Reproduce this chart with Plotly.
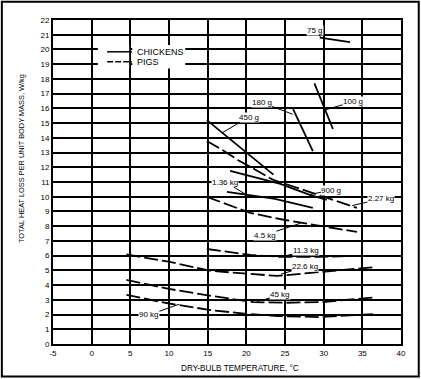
import plotly.graph_objects as go

# ---------------- data ----------------
x_ticks = [-5, 0, 5, 10, 15, 20, 25, 30, 35, 40]
x_tick_labels = ["-5", "0", "5", "10", "15", "20", "25", "30", "35", "40"]
y_ticks = list(range(0, 23))

# Chickens (solid)
chk_75g_x = [29.5, 33.4]
chk_75g_y = [20.8, 20.5]
chk_100g_x = [28.8, 31.2]
chk_100g_y = [17.7, 14.6]
chk_180g_x = [26.05, 28.6]
chk_180g_y = [15.95, 13.1]
chk_450g_x = [14.9, 23.5]
chk_450g_y = [15.2, 11.5]
chk_900g_x = [17.9, 24.4, 28.2, 30.4]
chk_900g_y = [11.75, 10.87, 10.12, 9.78]
chk_1360g_x = [17.5, 23.7, 28.6]
chk_1360g_y = [10.33, 9.85, 9.24]

# Pigs (dashed)
pig_227_x = [14.9, 16.9, 18.9, 21.4, 23.5, 27.0, 30.8, 34.3]
pig_227_y = [13.79, 13.18, 12.5, 11.75, 11.14, 10.53, 9.85, 9.24]
pig_45_x = [14.9, 20.5, 25.0, 29.5, 34.3]
pig_45_y = [9.99, 8.9, 8.42, 8.02, 7.61]
pig_113_x = [14.9, 20.5, 24.6, 29.5, 33.8]
pig_113_y = [6.45, 6.05, 5.91, 5.91, 5.98]
pig_226_x = [4.5, 10.1, 15.5, 19.9, 24.0, 29.5, 36.8]
pig_226_y = [6.08, 5.57, 4.96, 4.76, 4.62, 4.89, 5.23]
pig_450_x = [4.5, 10.0, 15.5, 20.9, 25.0, 29.9, 36.8]
pig_450_y = [4.35, 3.74, 3.26, 2.85, 2.8, 2.85, 3.18]
pig_900_x = [4.5, 10.0, 15.4, 20.0, 24.0, 29.5, 36.8]
pig_900_y = [3.33, 2.75, 2.3, 2.05, 1.9, 1.83, 2.04]

# curve labels: text, label position, pointer target
label_text = ["75 g", "100 g", "180 g", "450 g", "900 g", "1.36 kg", "2.27 kg",
              "4.5 kg", "11.3 kg", "22.6 kg", "45 kg", "90 kg"]
label_x = [28.9, 33.8, 22.0, 20.3, 31.0, 17.3, 37.4, 22.4, 27.7, 27.6, 24.4, 7.4]
label_y = [21.3, 16.45, 16.4, 15.4, 10.45, 11.0, 9.85, 7.4, 6.32, 5.23, 3.33, 1.97]
point_x = [29.6, 30.2, 26.0, 16.9, 28.2, 20.1, 33.7, 27.0, 24.5, 24.5, 21.4, 11.3]
point_y = [20.85, 15.9, 15.6, 14.35, 10.15, 10.1, 9.4, 8.2, 5.92, 4.75, 2.88, 2.7]

# key
key_names = ["CHICKENS", "PIGS"]
key_x0, key_x1, key_text_x = 2.0, 5.2, 5.6
key_y = [19.84, 19.16]

FONT = "Liberation Sans, Arial, sans-serif"

# ---------------- figure ----------------
fig = go.Figure()
solid = dict(color="black", width=1.8)
dashed = dict(color="black", width=1.8, dash="14px,4px")

chickens = [(chk_75g_x, chk_75g_y), (chk_100g_x, chk_100g_y), (chk_180g_x, chk_180g_y),
            (chk_450g_x, chk_450g_y), (chk_900g_x, chk_900g_y), (chk_1360g_x, chk_1360g_y)]
pigs = [(pig_227_x, pig_227_y), (pig_45_x, pig_45_y), (pig_113_x, pig_113_y),
        (pig_226_x, pig_226_y), (pig_450_x, pig_450_y), (pig_900_x, pig_900_y)]

for xs, ys in chickens:
    fig.add_trace(go.Scatter(x=xs, y=ys, mode="lines", line=solid, name="CHICKENS",
                             showlegend=False, hoverinfo="skip"))
for xs, ys in pigs:
    fig.add_trace(go.Scatter(x=xs, y=ys, mode="lines", line=dashed, name="PIGS",
                             showlegend=False, hoverinfo="skip"))

annotations = []
for t, lx, ly, px, py in zip(label_text, label_x, label_y, point_x, point_y):
    annotations.append(dict(x=px, y=py, ax=lx, ay=ly, xref="x", yref="y", axref="x", ayref="y",
                            text=t, showarrow=True, arrowhead=0, arrowwidth=1, arrowcolor="black",
                            xanchor="center", yanchor="middle",
                            font=dict(family=FONT, size=8, color="black"),
                            bgcolor="white", borderpad=0))

for name, ky in zip(key_names, key_y):
    annotations.append(dict(x=key_text_x, y=ky, xref="x", yref="y", text=name, showarrow=False,
                            xanchor="left", yanchor="middle",
                            font=dict(family=FONT, size=9, color="black")))

annotations.append(dict(text="TOTAL HEAT LOSS PER UNIT BODY MASS, W/kg", xref="paper", yref="paper",
                        x=-0.089, y=0.571, textangle=-90, showarrow=False,
                        xanchor="center", yanchor="middle",
                        font=dict(family=FONT, size=7.4, color="black")))
annotations.append(dict(text="DRY-BULB TEMPERATURE, °C", xref="paper", yref="paper",
                        x=0.537, y=-0.077, showarrow=False,
                        xanchor="center", yanchor="middle",
                        font=dict(family=FONT, size=8.2, color="black")))

shapes = [
    # white patches that break horizontal grid lines behind the key
    dict(type="rect", xref="x", yref="y", x0=0.8, x1=4.85, y0=18.7, y1=20.3,
         fillcolor="white", line=dict(width=0), layer="between"),
    dict(type="rect", xref="x", yref="y", x0=5.25, x1=12.1, y0=18.7, y1=20.3,
         fillcolor="white", line=dict(width=0), layer="between"),
    # key samples
    dict(type="line", xref="x", yref="y", x0=key_x0, x1=key_x1, y0=key_y[0], y1=key_y[0],
         line=dict(color="black", width=1.5)),
    dict(type="line", xref="x", yref="y", x0=key_x0, x1=key_x1, y0=key_y[1], y1=key_y[1],
         line=dict(color="black", width=1.5, dash="6px,2px")),
    # outer frame of the picture
    dict(type="rect", xref="paper", yref="paper", x0=-0.147, x1=1.051, y0=-0.1, y1=1.056,
         line=dict(color="black", width=2), fillcolor="rgba(0,0,0,0)", layer="above"),
]

axis_common = dict(showgrid=True, gridcolor="black", zeroline=False,
                   showline=True, linecolor="black", linewidth=1.8, mirror=True,
                   ticks="", tickfont=dict(family=FONT, size=8, color="black"),
                   fixedrange=True)

fig.update_layout(
    width=421, height=379,
    margin=dict(l=53, r=20, t=20, b=35),
    paper_bgcolor="white", plot_bgcolor="white",
    xaxis=dict(range=[-5, 40], tickvals=x_ticks, ticktext=x_tick_labels, gridwidth=1.6,
               **axis_common),
    yaxis=dict(range=[0, 22], tickvals=y_ticks, gridwidth=2, **axis_common),
    showlegend=False,
    annotations=annotations,
    shapes=shapes,
)

fig.write_html("out.html", config={"displayModeBar": False},
               post_script="document.body.style.margin='0';document.body.style.overflow='hidden';")
